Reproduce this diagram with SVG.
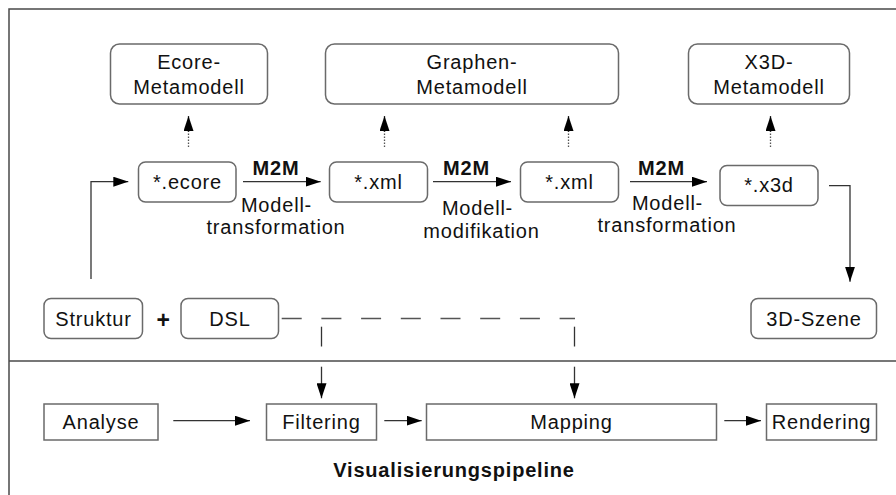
<svg xmlns="http://www.w3.org/2000/svg" width="896" height="495" viewBox="0 0 896 495">
  <defs>
    <marker id="arrow" viewBox="0 0 15 10" refX="15" refY="5" markerWidth="15" markerHeight="10" markerUnits="userSpaceOnUse" orient="auto">
      <path d="M0,0 L15,5 L0,10 Z" fill="#000"/>
    </marker>
  </defs>
  <style>
    text { font-family: "Liberation Sans", Arial, sans-serif; font-size: 20px; letter-spacing: 0.8px; fill: #111; text-anchor: middle; }
    .bold { font-weight: bold; }
    .box { fill: #fff; stroke: #6a6a6a; stroke-width: 1.5; }
    .frame { fill: none; stroke: #4a4a4a; stroke-width: 1.5; }
    .conn { fill: none; stroke: #333; stroke-width: 1.3; }
    .dotted { fill: none; stroke: #555; stroke-width: 1.3; stroke-dasharray: 1.5 1.5; }
    .dashed { fill: none; stroke: #555; stroke-width: 1.3; stroke-dasharray: 20 19.7; }
  </style>

  <rect width="896" height="495" fill="#fff"/>

  <!-- outer frame and separator between model level and pipeline -->
  <path class="frame" d="M9,495 V9 H896"/>
  <path class="frame" d="M9,361 H896"/>

  <!-- metamodels -->
  <g id="ecore-metamodell">
    <rect class="box" x="110.5" y="44" width="157" height="60" rx="9"/>
    <text x="189" y="69">Ecore-</text>
    <text x="189" y="94">Metamodell</text>
  </g>
  <g id="graphen-metamodell">
    <rect class="box" x="325.5" y="44" width="293" height="60" rx="9"/>
    <text x="472" y="69">Graphen-</text>
    <text x="472" y="94">Metamodell</text>
  </g>
  <g id="x3d-metamodell">
    <rect class="box" x="688.5" y="44" width="161" height="60" rx="9"/>
    <text x="769" y="69">X3D-</text>
    <text x="769" y="94">Metamodell</text>
  </g>

  <!-- model files -->
  <g id="ecore">
    <rect class="box" x="138.5" y="162" width="97.5" height="40" rx="7"/>
    <text x="187.5" y="188.5">*.ecore</text>
  </g>
  <g id="xml1">
    <rect class="box" x="329.5" y="162" width="98" height="40" rx="7"/>
    <text x="378.5" y="188.5">*.xml</text>
  </g>
  <g id="xml2">
    <rect class="box" x="520.5" y="162" width="98" height="40" rx="7"/>
    <text x="569.5" y="188.5">*.xml</text>
  </g>
  <g id="x3d">
    <rect class="box" x="720" y="165.5" width="98" height="40" rx="7"/>
    <text x="769" y="192">*.x3d</text>
  </g>

  <!-- inputs and result -->
  <g id="struktur">
    <rect class="box" x="44" y="298.5" width="98.5" height="40" rx="7"/>
    <text x="93.5" y="326">Struktur</text>
  </g>
  <text id="plus" class="bold" x="163.5" y="328" style="font-size:23px">+</text>
  <g id="dsl">
    <rect class="box" x="181" y="298.5" width="97.5" height="40" rx="7"/>
    <text x="230" y="326">DSL</text>
  </g>
  <g id="szene">
    <rect class="box" x="751" y="298.5" width="125.5" height="40" rx="7"/>
    <text x="814" y="326">3D-Szene</text>
  </g>

  <!-- visualisation pipeline -->
  <g id="analyse">
    <rect class="box" x="44" y="404" width="114" height="36"/>
    <text x="101" y="428.5">Analyse</text>
  </g>
  <g id="filtering">
    <rect class="box" x="266.5" y="404" width="110" height="36"/>
    <text x="321.5" y="428.5">Filtering</text>
  </g>
  <g id="mapping">
    <rect class="box" x="426.5" y="404" width="290" height="36"/>
    <text x="571.5" y="428.5">Mapping</text>
  </g>
  <g id="rendering">
    <rect class="box" x="766.5" y="404" width="110" height="36"/>
    <text x="821.5" y="428.5">Rendering</text>
  </g>
  <text id="pipeline-title" class="bold" x="454" y="476.5">Visualisierungspipeline</text>

  <!-- connectors -->
  <g id="connectors">
    <!-- conformance to metamodels -->
    <path class="dotted" d="M188.5,147 V131"/>
    <path class="conn" d="M188.5,132 V116" stroke="none" marker-end="url(#arrow)"/>
    <path class="dotted" d="M384.5,147 V131"/>
    <path class="conn" d="M384.5,132 V116" stroke="none" marker-end="url(#arrow)"/>
    <path class="dotted" d="M568.5,147 V131"/>
    <path class="conn" d="M568.5,132 V116" stroke="none" marker-end="url(#arrow)"/>
    <path class="dotted" d="M770.5,147 V131"/>
    <path class="conn" d="M770.5,132 V116" stroke="none" marker-end="url(#arrow)"/>

    <!-- model transformations -->
    <path class="conn" d="M243,181.7 H320.7" marker-end="url(#arrow)"/>
    <path class="conn" d="M433,181.7 H511" marker-end="url(#arrow)"/>
    <path class="conn" d="M630,181.7 H707" marker-end="url(#arrow)"/>

    <!-- input to ecore, x3d to scene -->
    <path class="conn" d="M91,279 V181.7 H128.3" marker-end="url(#arrow)"/>
    <path class="conn" d="M829,185.7 H850 V281.7" marker-end="url(#arrow)"/>

    <!-- DSL configures filtering and mapping -->
    <path class="dashed" d="M281.7,318.5 H575"/>
    <path class="conn" stroke="#555" d="M321.5,326.7 V346.5"/>
    <path class="conn" stroke="#555" d="M321.5,366.7 V398.3" marker-end="url(#arrow)"/>
    <path class="conn" stroke="#555" d="M574.5,326.7 V346.5"/>
    <path class="conn" stroke="#555" d="M574.5,366.7 V398.3" marker-end="url(#arrow)"/>

    <!-- pipeline steps -->
    <path class="conn" d="M173.3,420.7 H250" marker-end="url(#arrow)"/>
    <path class="conn" d="M384.3,420.7 H421.7" marker-end="url(#arrow)"/>
    <path class="conn" d="M724.3,420.7 H761" marker-end="url(#arrow)"/>
  </g>

  <!-- transformation labels -->
  <g id="labels">
    <text class="bold" x="276" y="175">M2M</text>
    <text x="276.5" y="212">Modell-</text>
    <text x="276" y="233.5">transformation</text>
    <text class="bold" x="466.5" y="175">M2M</text>
    <text x="477.5" y="215">Modell-</text>
    <text x="481.5" y="237.5">modifikation</text>
    <text class="bold" x="661.5" y="175">M2M</text>
    <text x="667.5" y="209.5">Modell-</text>
    <text x="667" y="231.5">transformation</text>
  </g>
</svg>
